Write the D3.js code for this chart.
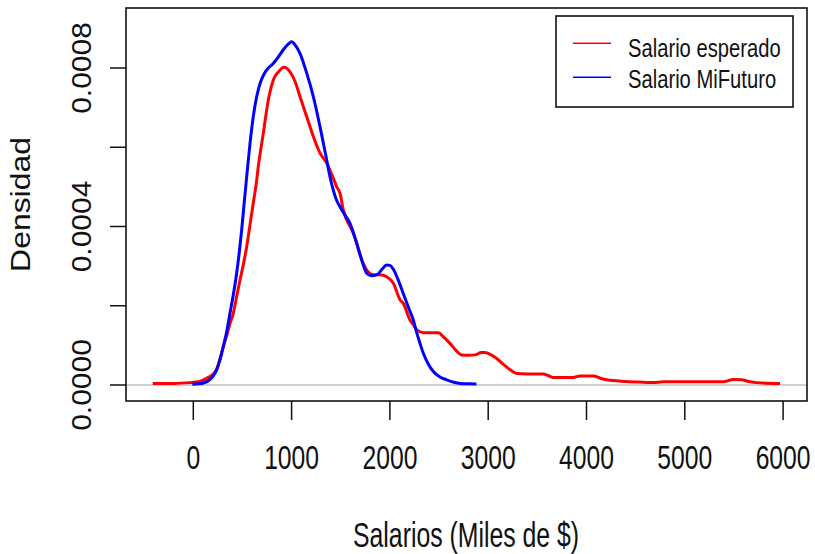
<!DOCTYPE html>
<html><head><meta charset="utf-8">
<script src="https://cdn.jsdelivr.net/npm/d3@7"></script>
<style>html,body{margin:0;padding:0;background:#fff;}svg{display:block;}</style>
</head><body>
<svg id="chart" width="815" height="554"></svg>
<script>
// Data (x: salary in thousands, y: density)
const redX = [-413,-200,-34,50,136,200,238,270,305,340,373,407,440,475,510,543,594,620,645,661,712,763,814,865,926,984,1035,1085,1154,1221,1289,1357,1424,1459,1492,1526,1628,1729,1780,1831,1899,1967,2035,2103,2136,2204,2238,2273,2340,2420,2493,2550,2611,2670,2730,2800,2866,2930,2967,3030,3086,3150,3205,3290,3400,3561,3662,3866,3934,4069,4140,4205,4400,4578,4680,4781,5100,5392,5493,5579,5650,5731,5968];
const redY = [0.000004,0.000004,0.000006,0.000008,0.000017,0.000027,0.000040,0.000065,0.000097,0.000125,0.000155,0.000181,0.000222,0.000265,0.000305,0.000349,0.000433,0.000475,0.000517,0.000551,0.000635,0.000719,0.000770,0.000790,0.000802,0.000790,0.000766,0.000728,0.000677,0.000627,0.000585,0.000560,0.000522,0.000500,0.000484,0.000442,0.000383,0.000307,0.000285,0.000278,0.000278,0.000273,0.000257,0.000215,0.000206,0.000164,0.000152,0.000139,0.000132,0.000132,0.000132,0.000120,0.000105,0.000088,0.000076,0.000075,0.000076,0.000082,0.000082,0.000076,0.000067,0.000053,0.000042,0.000029,0.000028,0.000028,0.000019,0.000019,0.000023,0.000023,0.000017,0.000013,0.000009,0.000007,0.000006,0.000008,0.000008,0.000008,0.000014,0.000013,0.000009,0.000006,0.000004];
const blueX = [-10,50,102,160,200,238,270,305,340,373,410,441,470,492,516,543,577,610,645,679,720,763,808,848,916,965,1000,1030,1085,1154,1221,1289,1357,1391,1424,1460,1492,1540,1594,1662,1720,1764,1810,1866,1920,1967,2000,2035,2080,2136,2190,2238,2273,2306,2340,2390,2442,2510,2578,2650,2713,2800,2880];
const blueY = [0.000002,0.000003,0.000005,0.000012,0.000022,0.000038,0.000062,0.000097,0.000135,0.000181,0.000232,0.000282,0.000340,0.000391,0.000455,0.000525,0.000610,0.000677,0.000728,0.000761,0.000785,0.000800,0.000810,0.000822,0.000846,0.000860,0.000866,0.000860,0.000837,0.000787,0.000728,0.000652,0.000568,0.000525,0.000492,0.000465,0.000450,0.000430,0.000408,0.000358,0.000310,0.000282,0.000276,0.000278,0.000292,0.000303,0.000302,0.000292,0.000268,0.000231,0.000195,0.000164,0.000132,0.000105,0.000080,0.000053,0.000034,0.000020,0.000013,0.000007,0.000004,0.000003,0.0000025];
const xTicks = [0,1000,2000,3000,4000,5000,6000];
const yTicks = [0,0.0002,0.0004,0.0006,0.0008];
const yLabels = ["0.0000","","0.0004","","0.0008"];
const seriesNames = ["Salario esperado","Salario MiFuturo"];
const seriesColors = ["#ff0000","#0000ff"];

const svg = d3.select("#chart");
const FONT = "'Liberation Sans', Arial, Helvetica, sans-serif";
const box = {l:126, r:807, t:8, b:401};
const x = d3.scaleLinear().domain([0,6000]).range([193.3,783.1]);
const y = d3.scaleLinear().domain([0,0.0008]).range([385,68]);

// zero reference line
svg.append("line").attr("x1",box.l).attr("x2",box.r).attr("y1",y(0)).attr("y2",y(0))
  .attr("stroke","#bebebe").attr("stroke-width",1.6);

const line = d3.line().x(d=>x(d[0])).y(d=>y(d[1])).curve(d3.curveMonotoneX);
const redData = redX.map((v,i)=>[v,redY[i]]);
const blueData = blueX.map((v,i)=>[v,blueY[i]]);
svg.append("path").datum(redData).attr("d",line).attr("fill","none")
  .attr("stroke",seriesColors[0]).attr("stroke-width",3).attr("stroke-linejoin","round");
svg.append("path").datum(blueData).attr("d",line).attr("fill","none")
  .attr("stroke",seriesColors[1]).attr("stroke-width",3).attr("stroke-linejoin","round");

// plot box
svg.append("rect").attr("x",box.l).attr("y",box.t).attr("width",box.r-box.l).attr("height",box.b-box.t)
  .attr("fill","none").attr("stroke","#111").attr("stroke-width",1.6);

// x axis ticks
const xg = svg.append("g");
xTicks.forEach(t=>{
  xg.append("line").attr("x1",x(t)).attr("x2",x(t)).attr("y1",box.b).attr("y2",box.b+19)
    .attr("stroke","#111").attr("stroke-width",1.5);
  xg.append("text").attr("transform",`translate(${x(t)},469) scale(1,1.36)`)
    .attr("text-anchor","middle").attr("font-family",FONT).attr("font-size",24.7).attr("fill","#111").text(d3.format("d")(t));
});
// y axis ticks
const yg = svg.append("g");
yTicks.forEach((t,i)=>{
  yg.append("line").attr("x1",box.l-16).attr("x2",box.l).attr("y1",y(t)).attr("y2",y(t))
    .attr("stroke","#111").attr("stroke-width",1.5);
  if (yLabels[i]) yg.append("text").attr("transform",`translate(91,${y(t)}) scale(1,1.07) rotate(-90)`)
    .attr("text-anchor","middle").attr("font-family",FONT).attr("font-size",28).attr("fill","#111").text(yLabels[i]);
});

// axis titles
svg.append("text").attr("transform","translate(466,547) scale(1,1.4)").attr("text-anchor","middle")
  .attr("font-family",FONT).attr("font-size",24.8).attr("fill","#111").text("Salarios (Miles de $)");
svg.append("text").attr("transform","translate(30,204.5) scale(1,1.14) rotate(-90)").attr("text-anchor","middle")
  .attr("font-family",FONT).attr("font-size",28).attr("fill","#111").text("Densidad");

// legend
const lg = svg.append("g");
lg.append("rect").attr("x",556).attr("y",16).attr("width",237).attr("height",91)
  .attr("fill","#fff").attr("stroke","#111").attr("stroke-width",1.6);
const legY = [43.3, 77.3];
const legBase = [56.5, 88];
seriesNames.forEach((n,i)=>{
  lg.append("line").attr("x1",573).attr("x2",611).attr("y1",legY[i]).attr("y2",legY[i])
    .attr("stroke",seriesColors[i]).attr("stroke-width",1.6);
  lg.append("text").attr("transform",`translate(628,${legBase[i]}) scale(1,1.27)`)
    .attr("font-family",FONT).attr("font-size",20.2).attr("fill","#111").text(n);
});
</script>
</body></html>
